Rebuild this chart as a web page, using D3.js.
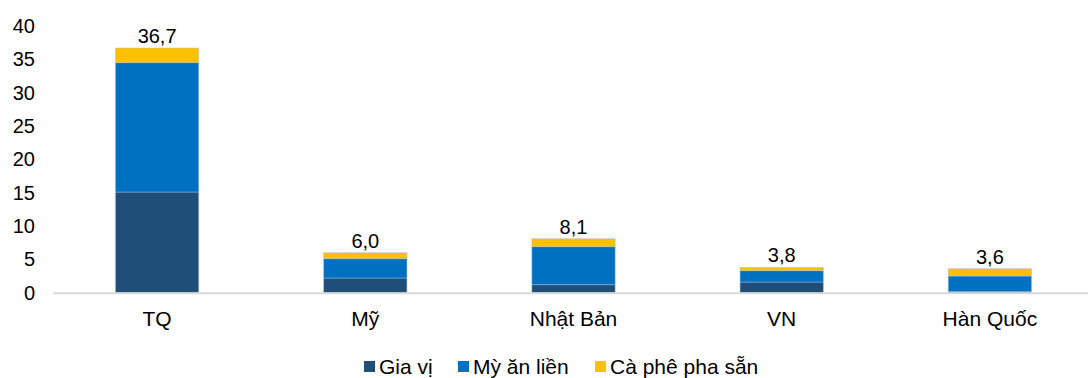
<!DOCTYPE html>
<html>
<head>
<meta charset="utf-8">
<script src="https://cdn.jsdelivr.net/npm/d3@7/dist/d3.min.js"></script>
<style>
  html, body { margin: 0; padding: 0; background: #fff; }
  svg { display: block; font-family: "Liberation Sans", Arial, sans-serif; }
</style>
</head>
<body>
<svg id="chart" width="1088" height="378"></svg>
<script>
// Market size by country, split by product group
const countries = ["TQ", "Mỹ", "Nhật Bản", "VN", "Hàn Quốc"];
const seriesNames = ["Gia vị", "Mỳ ăn liền", "Cà phê pha sẵn"];
const giaVi    = [15.1, 2.2, 1.2, 1.6, 0.2];
const myAnLien = [19.4, 2.9, 5.7, 1.7, 2.3];
const caPhe    = [2.2, 0.9, 1.2, 0.5, 1.1];
const totals   = [36.7, 6.0, 8.1, 3.8, 3.6];
const yTicks   = [0, 5, 10, 15, 20, 25, 30, 35, 40];
const colors   = ["#1F4E79", "#0070C0", "#FFC000"];

const svg = d3.select("#chart");
const margin = { left: 53, right: -6, top: 26, bottom: 85 };
const W = 1088, H = 378;

const x = d3.scaleBand()
  .domain(countries)
  .range([margin.left, W - margin.right])
  .paddingInner(0.6)
  .paddingOuter(0.3);

const y = d3.scaleLinear()
  .domain([0, 40])
  .range([292.7, margin.top]);

const rows = countries.map((c, i) => ({
  country: c,
  "Gia vị": giaVi[i],
  "Mỳ ăn liền": myAnLien[i],
  "Cà phê pha sẵn": caPhe[i],
  total: totals[i]
}));

const stack = d3.stack().keys(seriesNames);
const layers = stack(rows);

// stacked bars
svg.append("g")
  .selectAll("g")
  .data(layers)
  .join("g")
  .attr("fill", (d, i) => colors[i])
  .selectAll("rect")
  .data(d => d)
  .join("rect")
  .attr("x", d => x(d.data.country))
  .attr("width", x.bandwidth())
  .attr("y", d => y(d[1]))
  .attr("height", d => y(d[0]) - y(d[1]))
  .attr("stroke", "#9dc3e6")
  .attr("stroke-opacity", 0.6)
  .attr("stroke-width", 0.8);

// y axis (labels only)
const yAxis = d3.axisLeft(y).tickValues(yTicks).tickSize(0).tickPadding(0);
const yg = svg.append("g")
  .attr("transform", "translate(35,0)")
  .call(yAxis);
yg.select(".domain").remove();
yg.selectAll("text")
  .attr("font-size", 20)
  .attr("fill", "#000")
  .attr("font-family", "Liberation Sans, Arial, sans-serif");

// x axis baseline and category labels
const xAxis = d3.axisBottom(x).tickSize(0).tickPadding(18);
const xg = svg.append("g")
  .attr("transform", `translate(0,${y(0)})`)
  .call(xAxis);
xg.select(".domain")
  .attr("stroke", "#d9d9d9")
  .attr("stroke-width", 2);
xg.selectAll("text")
  .attr("font-size", 21)
  .attr("fill", "#000")
  .attr("font-family", "Liberation Sans, Arial, sans-serif");

// total labels above bars
svg.append("g")
  .selectAll("text")
  .data(rows)
  .join("text")
  .attr("x", d => x(d.country) + x.bandwidth() / 2)
  .attr("y", d => y(d.total) - 5)
  .attr("text-anchor", "middle")
  .attr("font-size", 20)
  .attr("fill", "#000")
  .text(d => d3.format(".1f")(d.total).replace(".", ","));

// legend
const legendX = [364, 458, 595];
const legend = svg.append("g")
  .selectAll("g")
  .data(seriesNames)
  .join("g")
  .attr("transform", (d, i) => `translate(${legendX[i]},361)`);
legend.append("rect")
  .attr("width", 11)
  .attr("height", 11)
  .attr("fill", (d, i) => colors[i]);
legend.append("text")
  .attr("x", 15)
  .attr("y", 13)
  .attr("font-size", 21)
  .attr("fill", "#000")
  .text(d => d);
</script>
</body>
</html>
